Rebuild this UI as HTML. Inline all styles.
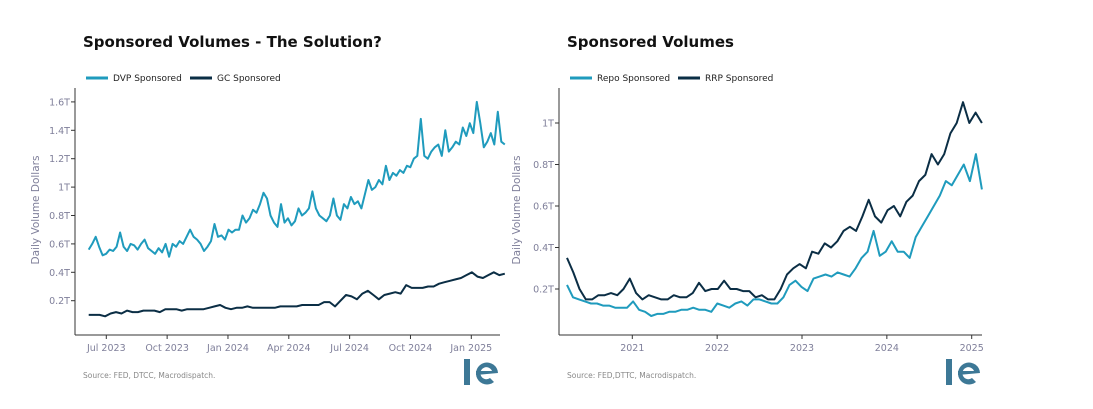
<!DOCTYPE html>
<html><head><meta charset="utf-8"><style>
body{margin:0;background:#fff;font-family:"Liberation Sans",sans-serif}
svg text{font-family:"DejaVu Sans","Liberation Sans",sans-serif}
</style></head><body>
<svg id="s" width="1093" height="404" viewBox="0 0 1093 404" xmlns="http://www.w3.org/2000/svg">
<text x="83" y="47" font-size="15" font-weight="bold" fill="#111">Sponsored Volumes - The Solution?</text>
<text x="567" y="47" font-size="15" font-weight="bold" fill="#111">Sponsored Volumes</text>
</svg>
<script>
// Left chart data (T), evenly spaced from start to end date
const leftStart=[2023,5.13], leftEnd=[2025,1.65];
const dvpValues=[0.56,0.6,0.65,0.58,0.52,0.53,0.56,0.55,0.58,0.68,0.58,0.55,0.6,0.59,0.56,0.6,0.63,0.57,0.55,0.53,0.57,0.54,0.6,0.51,0.6,0.58,0.62,0.6,0.65,0.7,0.65,0.63,0.6,0.55,0.58,0.62,0.74,0.65,0.66,0.63,0.7,0.68,0.7,0.7,0.8,0.75,0.78,0.84,0.82,0.88,0.96,0.92,0.8,0.75,0.72,0.88,0.75,0.78,0.73,0.76,0.85,0.8,0.82,0.85,0.97,0.85,0.8,0.78,0.76,0.8,0.92,0.8,0.77,0.88,0.85,0.93,0.88,0.9,0.85,0.95,1.05,0.98,1.0,1.05,1.02,1.15,1.05,1.1,1.08,1.12,1.1,1.15,1.14,1.2,1.22,1.48,1.22,1.2,1.25,1.28,1.3,1.22,1.4,1.25,1.28,1.32,1.3,1.42,1.36,1.45,1.38,1.6,1.45,1.28,1.32,1.38,1.3,1.53,1.32,1.3];
const gcValues=[0.1,0.1,0.1,0.09,0.11,0.12,0.11,0.13,0.12,0.12,0.13,0.13,0.13,0.12,0.14,0.14,0.14,0.13,0.14,0.14,0.14,0.14,0.15,0.16,0.17,0.15,0.14,0.15,0.15,0.16,0.15,0.15,0.15,0.15,0.15,0.16,0.16,0.16,0.16,0.17,0.17,0.17,0.17,0.19,0.19,0.16,0.2,0.24,0.23,0.21,0.25,0.27,0.24,0.21,0.24,0.25,0.26,0.25,0.31,0.29,0.29,0.29,0.3,0.3,0.32,0.33,0.34,0.35,0.36,0.38,0.4,0.37,0.36,0.38,0.4,0.38,0.39];
const leftYTicks=[0.2,0.4,0.6,0.8,1,1.2,1.4,1.6];
const leftYLabels=["0.2T","0.4T","0.6T","0.8T","1T","1.2T","1.4T","1.6T"];
const leftXTicks=[[2023,6],[2023,9],[2024,0],[2024,3],[2024,6],[2024,9],[2025,0]];
const leftXLabels=["Jul 2023","Oct 2023","Jan 2024","Apr 2024","Jul 2024","Oct 2024","Jan 2025"];
// Right chart data (T)
const rightStart=2020.23, rightEnd=2025.12;
const repoValues=[0.22,0.16,0.15,0.14,0.13,0.13,0.12,0.12,0.11,0.11,0.11,0.14,0.1,0.09,0.07,0.08,0.08,0.09,0.09,0.1,0.1,0.11,0.1,0.1,0.09,0.13,0.12,0.11,0.13,0.14,0.12,0.15,0.15,0.14,0.13,0.13,0.16,0.22,0.24,0.21,0.19,0.25,0.26,0.27,0.26,0.28,0.27,0.26,0.3,0.35,0.38,0.48,0.36,0.38,0.43,0.38,0.38,0.35,0.45,0.5,0.55,0.6,0.65,0.72,0.7,0.75,0.8,0.72,0.85,0.68];
const rrpValues=[0.35,0.28,0.2,0.15,0.15,0.17,0.17,0.18,0.17,0.2,0.25,0.18,0.15,0.17,0.16,0.15,0.15,0.17,0.16,0.16,0.18,0.23,0.19,0.2,0.2,0.24,0.2,0.2,0.19,0.19,0.16,0.17,0.15,0.15,0.2,0.27,0.3,0.32,0.3,0.38,0.37,0.42,0.4,0.43,0.48,0.5,0.48,0.55,0.63,0.55,0.52,0.58,0.6,0.55,0.62,0.65,0.72,0.75,0.85,0.8,0.85,0.95,1.0,1.1,1.0,1.05,1.0];
const rightYTicks=[0.2,0.4,0.6,0.8,1];
const rightYLabels=["0.2T","0.4T","0.6T","0.8T","1T"];
const rightXTicks=[2021,2022,2023,2024,2025];
const rightXLabels=["2021","2022","2023","2024","2025"];

const NS="http://www.w3.org/2000/svg", svg=document.getElementById('s');
function mk(tag,attrs,parent){const e=document.createElementNS(NS,tag);for(const k in attrs)e.setAttribute(k,attrs[k]);(parent||svg).appendChild(e);return e;}
const LIGHT="#1f9bbd", DARK="#0b2e45", GREY="#7f7f9a";
function mo(d){return d[0]*12+d[1];}
// left scales
const lx=m=>106.3+(m-mo([2023,6]))*(365/18);
const ly=v=>329.1-v*142;
const rx=t=>632.3+(t-2021)*84.85;
const ry=v=>330.5-v*207.5;

function axes(x0,x1,yTicks,yLabels,yf,xTicksPx,xLabels,titleX,ax){
  let a=mk('line',{x1:x0,y1:88,x2:x0,y2:335,stroke:"#333","stroke-width":1});
  
  a=mk('line',{x1:x0,y1:335,x2:x1,y2:335,stroke:"#333","stroke-width":1});
  
  yTicks.forEach((v,i)=>{const y=yf(v);
    mk('line',{x1:x0-4,y1:y,x2:x0,y2:y,stroke:"#333"});
    const t=mk('text',{x:x0-5,y:y+3.5,"text-anchor":"end","font-size":9.5,fill:GREY});t.textContent=yLabels[i];
    });
  xTicksPx.forEach((x,i)=>{
    mk('line',{x1:x,y1:335,x2:x,y2:339,stroke:"#333"});
    const t=mk('text',{x:x,y:351,"text-anchor":"middle","font-size":9.5,fill:GREY});t.textContent=xLabels[i];
    });
  const t=mk('text',{x:titleX,y:210,"text-anchor":"middle","font-size":10.5,fill:GREY,transform:`rotate(-90 ${titleX} 210)`});
  t.textContent="Daily Volume Dollars";
}
axes(75,500,leftYTicks,leftYLabels,ly,leftXTicks.map(d=>lx(mo(d))),leftXLabels,39,'left');
axes(559,982,rightYTicks,rightYLabels,ry,rightXTicks.map(rx),rightXLabels,520,'right');

function series(vals,xs,xe,xf,yf,color,name){
  const n=vals.length;
  const pts=vals.map((v,i)=>xf(xs+(xe-xs)*i/(n-1)).toFixed(1)+","+yf(v).toFixed(1)).join(" ");
  const p=mk('polyline',{points:pts,fill:"none",stroke:color,"stroke-width":2,"stroke-linejoin":"round"});
  
}
series(dvpValues,mo(leftStart),mo(leftEnd),lx,ly,LIGHT,'dvp-sponsored-line');
series(gcValues,mo(leftStart),mo(leftEnd),lx,ly,DARK,'gc-sponsored-line');
series(repoValues,rightStart,rightEnd,rx,ry,LIGHT,'repo-sponsored-line');
series(rrpValues,rightStart,rightEnd,rx,ry,DARK,'rrp-sponsored-line');

function legend(x,label,color,name){
  const g=mk('g',{});
  mk('line',{x1:x,y1:78,x2:x+22,y2:78,stroke:color,"stroke-width":3},g);
  const t=mk('text',{x:x+27,y:81,"font-size":9,fill:"#222"},g);t.textContent=label;
}
legend(86,"DVP Sponsored",LIGHT,'legend-dvp');
legend(190,"GC Sponsored",DARK,'legend-gc');
legend(570,"Repo Sponsored",LIGHT,'legend-repo');
legend(678,"RRP Sponsored",DARK,'legend-rrp');

function foot(x,txt,lx0,name){
  const t=mk('text',{x:x,y:378,"font-size":7.5,fill:"#888"});t.textContent=txt;
  
  const g=mk('g',{});
  mk('rect',{x:lx0,y:359,width:6,height:26,fill:"#3d7896"},g);
  mk('path',{d:`M${lx0+34},373 A11,11 0 1 0 ${lx0+30},382 L${lx0+26},378 A6,6 0 1 1 ${lx0+28},371 L${lx0+12},371 L${lx0+12},375 Z`,fill:"#3d7896"},g);
}
foot(83,"Source: FED, DTCC, Macrodispatch.",464,'left');
foot(567,"Source: FED,DTTC, Macrodispatch.",946,'right');
</script>
</body></html>
